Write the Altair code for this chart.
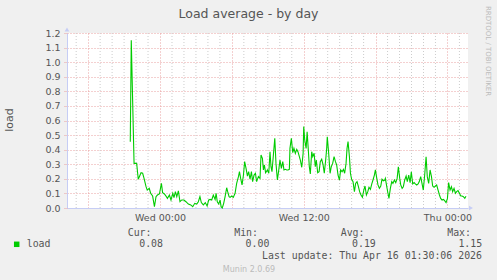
import altair as alt
import pandas as pd

# minutes relative to Wed 00:00
minutes = [-149, -144, -130, -117, -109, -95, -87, -80, -70, -64, -54, -47, -37, -28, -20, -13, -3, 7, 13, 22,
           30, 37, 47, 55, 64, 70, 77, 84, 92, 100, 109, 120, 130, 142, 154, 164, 174, 184, 192, 200,
           207, 217, 227, 236, 244,
           251, 259, 267, 276, 281, 287, 294, 301, 306, 312, 319, 326, 334, 339, 346, 351, 359, 367, 376, 384,
           393, 398, 404, 411, 418, 424, 431, 438, 444, 451, 458, 464, 471, 478, 484, 493, 501, 506, 513, 518,
           523, 529, 538, 545, 551, 556, 561, 568, 575, 581, 588, 595, 601, 608, 615, 621, 628, 635, 641, 648,
           651, 658, 665, 671, 678, 685, 691,
           696, 703, 710, 717, 720, 725, 732, 737, 743, 748, 753, 760, 765, 772, 778, 783, 790, 797, 803, 810,
           817, 823, 830, 835, 838, 845, 852, 858, 865, 872, 879, 885, 892, 899, 905, 912, 919, 925, 932, 937,
           942, 949, 954, 960, 967, 974, 980, 987, 994, 1000, 1007, 1014, 1021, 1027, 1034, 1041, 1047, 1054, 1061, 1067,
           1074, 1079, 1086, 1092, 1099, 1106, 1112, 1119, 1126,
           1129, 1136, 1142, 1147, 1154, 1161, 1167, 1174, 1181, 1188, 1194, 1201, 1206, 1213, 1219, 1226, 1233, 1239, 1246, 1253,
           1259, 1266, 1273, 1279, 1286, 1293, 1299, 1306, 1313, 1319, 1326, 1333, 1339, 1346, 1353, 1360, 1366, 1373, 1380, 1386,
           1393, 1400, 1406, 1413, 1420, 1426, 1433, 1440, 1446, 1453, 1460, 1466, 1473, 1480, 1486, 1493, 1500, 1507, 1513, 1520,
           1527, 1533]

load = [0.455, 1.15, 0.306, 0.306, 0.197, 0.242, 0.238, 0.203, 0.146, 0.123, 0.135, 0.101, 0.082, 0.009, 0.078, 0.089, 0.096, 0.169, 0.105, 0.096,
        0.082, 0.066, 0.089, 0.055, 0.101, 0.071, 0.112, 0.078, 0.117, 0.043, 0.055, 0.055, 0.043, 0.027, 0.021, 0.009, 0.032, 0.027, 0.043, 0.078,
        0.037, 0.021, 0.037, 0.014, 0.055,
        0.059, 0.055, 0.089, 0.059, 0.101, 0.043, 0.027, 0.055, 0.009, 0.0, 0.032, 0.078, 0.139, 0.112, 0.078, 0.073, 0.082, 0.073, 0.101, 0.169,
        0.215, 0.249, 0.203, 0.158, 0.226, 0.318, 0.272, 0.219, 0.249, 0.197, 0.249, 0.181, 0.226, 0.238, 0.181, 0.215, 0.203, 0.363, 0.341, 0.261,
        0.295, 0.242, 0.261, 0.238, 0.386, 0.283, 0.249, 0.363, 0.478, 0.306, 0.192, 0.261, 0.329, 0.272, 0.318, 0.261, 0.265, 0.261, 0.261, 0.265,
        0.409, 0.478, 0.379, 0.409, 0.375, 0.402, 0.386,
        0.363, 0.329, 0.279, 0.375, 0.558, 0.466, 0.409, 0.523, 0.398, 0.283, 0.233, 0.386, 0.352, 0.375, 0.283, 0.329, 0.242, 0.249, 0.318, 0.334,
        0.295, 0.238, 0.329, 0.409, 0.489, 0.375, 0.238, 0.283, 0.306, 0.352, 0.318, 0.295, 0.226, 0.192, 0.261, 0.249, 0.265, 0.238, 0.306, 0.409,
        0.455, 0.352, 0.238, 0.197, 0.181, 0.112, 0.169, 0.181, 0.146, 0.112, 0.089, 0.073, 0.123, 0.151, 0.089, 0.112, 0.142, 0.128, 0.165, 0.192,
        0.226, 0.261, 0.203, 0.158, 0.135, 0.151, 0.197, 0.187, 0.192,
        0.203, 0.146, 0.101, 0.066, 0.135, 0.181, 0.169, 0.192, 0.174, 0.203, 0.283, 0.203, 0.158, 0.135, 0.146, 0.192, 0.219, 0.181, 0.226, 0.174,
        0.249, 0.165, 0.174, 0.165, 0.158, 0.165, 0.181, 0.215, 0.165, 0.123, 0.226, 0.352, 0.215, 0.169, 0.261, 0.215, 0.151, 0.142, 0.151, 0.158,
        0.123, 0.089, 0.066, 0.055, 0.059, 0.050, 0.037, 0.066, 0.174, 0.123, 0.146, 0.112, 0.135, 0.101, 0.112, 0.119, 0.101, 0.082, 0.082, 0.078,
        0.066, 0.08]

major_ticks = [-360, 0, 360, 720, 1080, 1440]
tick_labels = {0: "Wed 00:00", 720: "Wed 12:00", 1440: "Thu 00:00"}
hour_lines = [m for m in range(-420, 1541, 60) if m % 360 != 0]
y_ticks = [round(i * 0.1, 1) for i in range(13)]

legend_heads = ["Cur:", "Min:", "Avg:", "Max:"]
legend_vals = ["0.08", "0.00", "0.19", "1.15"]
series_name = "load"
title_text = "Load average - by day"
last_update = "Last update: Thu Apr 16 01:30:06 2026"
footer = "Munin 2.0.69"
side_text = "RRDTOOL / TOBI OETIKER"

W, H = 401, 175
RED = "#e8a0a0"
GREY = "#cccccc"
AXIS = "#c6cdf5"
TXT = "#555555"
SANS = "DejaVu Sans"
MONO = "DejaVu Sans Mono"

df = pd.DataFrame({"minute": minutes, "load": load})

label_expr = " : ".join([f"datum.value == {k} ? '{v}'" for k, v in tick_labels.items()]) + " : ''"

xscale = alt.Scale(domain=[-466, 1543], nice=False, zero=False)

hours = alt.Chart(pd.DataFrame({"minute": hour_lines})).mark_rule(
    color=GREY, strokeDash=[1, 2], strokeWidth=1
).encode(x=alt.X("minute:Q", scale=xscale), y=alt.value(0), y2=alt.value(H))

line = alt.Chart(df).mark_line(color="#00cc00", strokeWidth=1.1).encode(
    x=alt.X("minute:Q", scale=xscale,
            axis=alt.Axis(values=major_ticks, labelExpr=label_expr, title=None, grid=True,
                          gridColor=RED, gridDash=[1, 2], ticks=False, domainColor=AXIS,
                          labelFont=SANS, labelFontSize=9.5, labelColor=TXT, labelPadding=4,
                          labelOverlap=False, labelFlush=False)),
    y=alt.Y("load:Q", scale=alt.Scale(domain=[0, 1.2], nice=False),
            axis=alt.Axis(values=y_ticks, format=".1f", title=None, grid=True, gridColor=RED,
                          gridDash=[1, 2], tickColor=RED, tickSize=4, tickDash=[1, 1],
                          domainColor=AXIS, labelFont=SANS, labelFontSize=9.5, labelColor=TXT,
                          labelPadding=3, labelOverlap=False)),
)


def label(text, x, y, size, color=TXT, font=MONO, align="left", angle=0):
    return alt.Chart(pd.DataFrame({"t": [text]})).mark_text(
        align=align, baseline="middle", font=font, fontSize=size, color=color, angle=angle
    ).encode(x=alt.value(x), y=alt.value(y), text="t:N")


texts = [
    label(title_text, 181.5, -19.5, 12.5, font=SANS, align="center"),
    label(series_name, -57, 87, 11, font=SANS, align="center", angle=270),
    label(side_text, 421, 18, 7, color="#bbbbbb", font=SANS, align="center", angle=90),
    label(last_update, 415, 223, 9.9, align="right"),
    label(footer, 182, 236.5, 8, color="#bbbbbb", font=SANS, align="center"),
    label(series_name, -40.3, 211.3, 9.9),
]
for i, (h, v) in enumerate(zip(legend_heads, legend_vals)):
    texts.append(label(h, 60.7 + 106.5 * i, 199.7, 9.9))
    texts.append(label(v, 96 + 106.4 * i, 211.3, 9.9, align="right"))

swatch = alt.Chart(pd.DataFrame({"t": [series_name]})).mark_square(
    color="#00cc00", size=30, opacity=1, filled=True
).encode(x=alt.value(-50.3), y=alt.value(211.3))

arrow_up = alt.Chart(pd.DataFrame({"t": [0]})).mark_point(
    shape="triangle-up", filled=True, color=AXIS, size=22, opacity=1
).encode(x=alt.value(0), y=alt.value(-3.5))
arrow_right = alt.Chart(pd.DataFrame({"t": [0]})).mark_point(
    shape="triangle-right", filled=True, color=AXIS, size=22, opacity=1
).encode(x=alt.value(W + 3), y=alt.value(H))

chart = alt.layer(hours, line, swatch, arrow_up, arrow_right, *texts).properties(
    width=W, height=H,
    padding={"left": 67, "top": 33, "right": 29, "bottom": 72},
    autosize=alt.AutoSizeParams(type="none"),
    background="#f0f0f0",
).configure_view(stroke=None, fill="white")

chart.save("out.html", embed_options={"renderer": "svg", "actions": False})
